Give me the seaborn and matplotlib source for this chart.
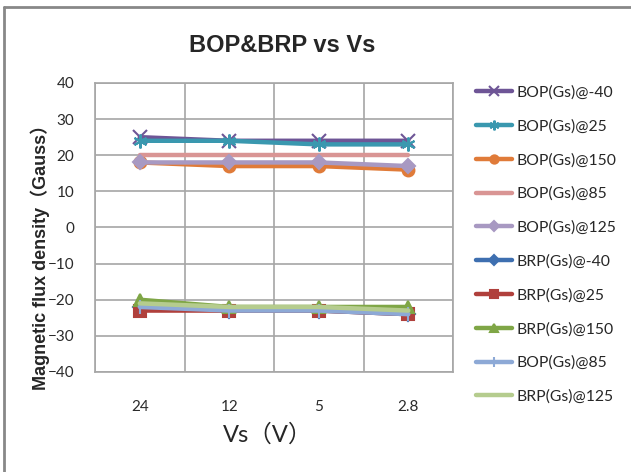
import seaborn as sns
import matplotlib.pyplot as plt
from matplotlib.lines import Line2D

# supply voltage categories (x axis, in plot order)
vs_labels = ['24', '12', '5', '2.8']

# series values (Gauss)
bop_m40 = [25, 24, 24, 24]
bop_25 = [24, 24, 23, 23]
bop_150 = [18, 17, 17, 16]
bop_85 = [20, 20, 20, 20]
bop_125 = [18, 18, 18, 17]
brp_m40 = [-22, -23, -23, -24]
brp_25 = [-23, -23, -23, -24]
brp_150 = [-20, -22, -22, -22]
bop_85b = [-22, -23, -23, -24]
brp_125 = [-21, -22, -22, -23]

series_names = ['BOP(Gs)@-40', 'BOP(Gs)@25', 'BOP(Gs)@150', 'BOP(Gs)@85', 'BOP(Gs)@125',
                'BRP(Gs)@-40', 'BRP(Gs)@25', 'BRP(Gs)@150', 'BOP(Gs)@85', 'BRP(Gs)@125']
series_values = [bop_m40, bop_25, bop_150, bop_85, bop_125,
                 brp_m40, brp_25, brp_150, bop_85b, brp_125]
colors = ['#6E5596', '#3A98AF', '#E07B39', '#D99594', '#A899C2',
          '#3E6FB0', '#B0403C', '#7FA646', '#8DA9D6', '#B5CC8E']
markers = ['x', (6, 2, 0), 'o', None, 'D', 'D', 's', '^', '|', None]
msizes = [10, 10, 8.5, 0, 7.5, 7, 8.5, 8.5, 10, 0]

sns.set_style('white')
plt.rcParams['font.family'] = ['Lato', 'Noto Sans CJK SC', 'DejaVu Sans']

fig = plt.figure(figsize=(6.31, 4.72), dpi=100)
ax = fig.add_axes([0.1506, 0.2119, 0.5674, 0.6123])

for name, vals, c, m, ms in zip(series_names, series_values, colors, markers, msizes):
    sns.lineplot(x=vs_labels, y=vals, sort=False, ax=ax, color=c, linewidth=3.2,
                 marker=m, markersize=ms, markeredgecolor=c, markerfacecolor=c,
                 markeredgewidth=1.5, label=name)

ax.set_xlim(-0.5, 3.5)
ax.set_ylim(-40, 40)
ax.set_yticks(range(-40, 41, 10))
ax.set_xticks([-0.5, 0.5, 1.5, 2.5, 3.5], minor=True)
ax.grid(False)
ax.grid(True, which='minor', axis='x', color='#a6a6a6', linewidth=1.2)
ax.grid(True, which='major', axis='y', color='#a6a6a6', linewidth=1.2)
ax.tick_params(axis='both', which='both', length=0, labelsize=11, colors='#2a2a2a')
ax.tick_params(axis='y', pad=15)
ax.tick_params(axis='x', pad=20)
for s in ax.spines.values():
    s.set_color('#a6a6a6')
    s.set_linewidth(1.2)
ax.set_xlabel('')
ax.set_ylabel('')

handles, labels = ax.get_legend_handles_labels()
ax.legend(handles, labels, loc='upper left', bbox_to_anchor=(470 / 631, 1 - 79 / 472),
          bbox_transform=fig.transFigure, frameon=False, fontsize=11.3, markerscale=0.7,
          handlelength=2.3, handletextpad=0.25, labelspacing=1.24, borderaxespad=0)

fig.text(282 / 631, 1 - 45 / 472, 'BOP&BRP vs Vs', ha='center', va='center',
         fontsize=17, fontweight='bold', family=['Liberation Sans', 'DejaVu Sans'])
fig.text(268 / 631, 1 - 435 / 472, 'Vs（V）', ha='center', va='center', fontsize=17)
fig.text(40 / 631, 1 - 253 / 472, 'Magnetic flux density（Gauss）', rotation=90,
         ha='center', va='center', fontsize=13, fontweight='bold',
         family=['Liberation Sans', 'Noto Sans CJK SC'])

# outer frame (top and left edges only)
fig.add_artist(Line2D([4 / 631, 1], [1 - 7 / 472, 1 - 7 / 472], color='#888888', linewidth=2))
fig.add_artist(Line2D([4 / 631, 4 / 631], [0, 1 - 7 / 472], color='#888888', linewidth=2))

fig.savefig('out.png', dpi=100)
